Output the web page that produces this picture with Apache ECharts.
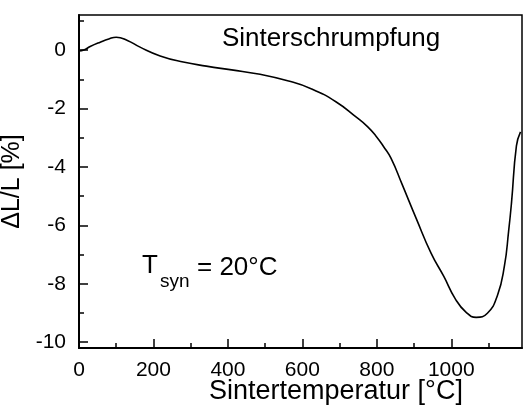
<!DOCTYPE html>
<html>
<head>
<meta charset="utf-8">
<script src="https://cdn.jsdelivr.net/npm/echarts@6/dist/echarts.min.js"></script>
<style>html,body{margin:0;padding:0;background:#fff}#c{width:527px;height:410px}</style>
</head>
<body>
<div id="c"></div>
<script>
var temperatures = [0, 13, 30, 57, 80, 100, 130, 164, 218, 280, 342, 410, 482, 563, 625, 690, 744, 775, 798, 818, 838, 868, 906, 946, 980, 1010, 1040, 1067, 1097, 1124, 1143, 1154, 1162, 1175, 1186];
var shrinkage = [-0.03, 0.0, 0.12, 0.27, 0.38, 0.44, 0.33, 0.1, -0.2, -0.41, -0.55, -0.68, -0.82, -1.06, -1.33, -1.77, -2.29, -2.62, -2.95, -3.3, -3.7, -4.6, -5.77, -6.96, -7.75, -8.5, -8.98, -9.15, -9.01, -8.4, -7.37, -6.21, -5.2, -3.28, -2.8];
var xMajorTicks = [0, 200, 400, 600, 800, 1000];
var xMinorTicks = [100, 300, 500, 700, 900, 1100];
var yMajorTicks = [-10, -8, -6, -4, -2, 0];
var yMinorTicks = [-9, -7, -5, -3, -1, 1];
var xTitle = 'Sintertemperatur [°C]';
var yTitle = 'ΔL/L [%]';
var chartTitle = 'Sinterschrumpfung';

var FONT = '"Liberation Sans", Arial, sans-serif';
var chart = echarts.init(document.getElementById('c'), null, {renderer: 'canvas'});
var data = temperatures.map(function (t, i) { return [t, shrinkage[i]]; });
function plain(v) { return String(v); }

chart.setOption({
  animation: false,
  backgroundColor: '#fff',
  grid: {left: 79, right: 5, top: 15, bottom: 62, show: true, borderColor: '#000', borderWidth: 1.5, outerBoundsMode: 'none'},
  xAxis: [{
    type: 'value', min: 0, max: 1190, position: 'bottom',
    axisLine: {onZero: false, lineStyle: {color: '#000', width: 2}},
    axisTick: {inside: true, length: 9, customValues: xMajorTicks, lineStyle: {color: '#000', width: 1.5}},
    axisLabel: {customValues: xMajorTicks, formatter: plain, color: '#000', fontSize: 21, fontFamily: FONT, margin: 12},
    splitLine: {show: false}
  }, {
    type: 'value', min: 0, max: 1190, position: 'bottom',
    axisLine: {show: false, onZero: false},
    axisTick: {inside: true, length: 5, customValues: xMinorTicks, lineStyle: {color: '#000', width: 1.5}},
    axisLabel: {show: false}, splitLine: {show: false}
  }],
  yAxis: [{
    type: 'value', min: -10.2, max: 1.2, position: 'left',
    axisLine: {show: true, onZero: false, lineStyle: {color: '#000', width: 2}},
    axisTick: {show: true, inside: true, length: 9, customValues: yMajorTicks, lineStyle: {color: '#000', width: 1.5}},
    axisLabel: {customValues: yMajorTicks, formatter: plain, color: '#000', fontSize: 21, fontFamily: FONT, margin: 13},
    splitLine: {show: false},
    name: yTitle, nameLocation: 'middle', nameGap: 31, nameRotate: 90,
    nameTextStyle: {color: '#000', fontSize: 25, fontFamily: FONT}
  }, {
    type: 'value', min: -10.2, max: 1.2, position: 'left',
    axisLine: {show: false, onZero: false},
    axisTick: {show: true, inside: true, length: 5, customValues: yMinorTicks, lineStyle: {color: '#000', width: 1.5}},
    axisLabel: {show: false}, splitLine: {show: false}
  }],
  series: [{
    type: 'line', data: data, xAxisIndex: 0, yAxisIndex: 0,
    showSymbol: false, smooth: 0.5,
    lineStyle: {color: '#000', width: 1.6}
  }],
  graphic: [
    {type: 'text', left: 222, top: 26, style: {text: chartTitle, fill: '#000', font: '26px ' + FONT}},
    {type: 'text', left: 209, top: 378, style: {text: xTitle, fill: '#000', font: '27px ' + FONT}},
    {type: 'text', left: 142, top: 253, style: {text: 'T', fill: '#000', font: '26px ' + FONT}},
    {type: 'text', left: 160, top: 272, style: {text: 'syn', fill: '#000', font: '19px ' + FONT}},
    {type: 'text', left: 197, top: 255, style: {text: '= 20°C', fill: '#000', font: '26px ' + FONT}}
  ]
});
</script>
</body>
</html>
